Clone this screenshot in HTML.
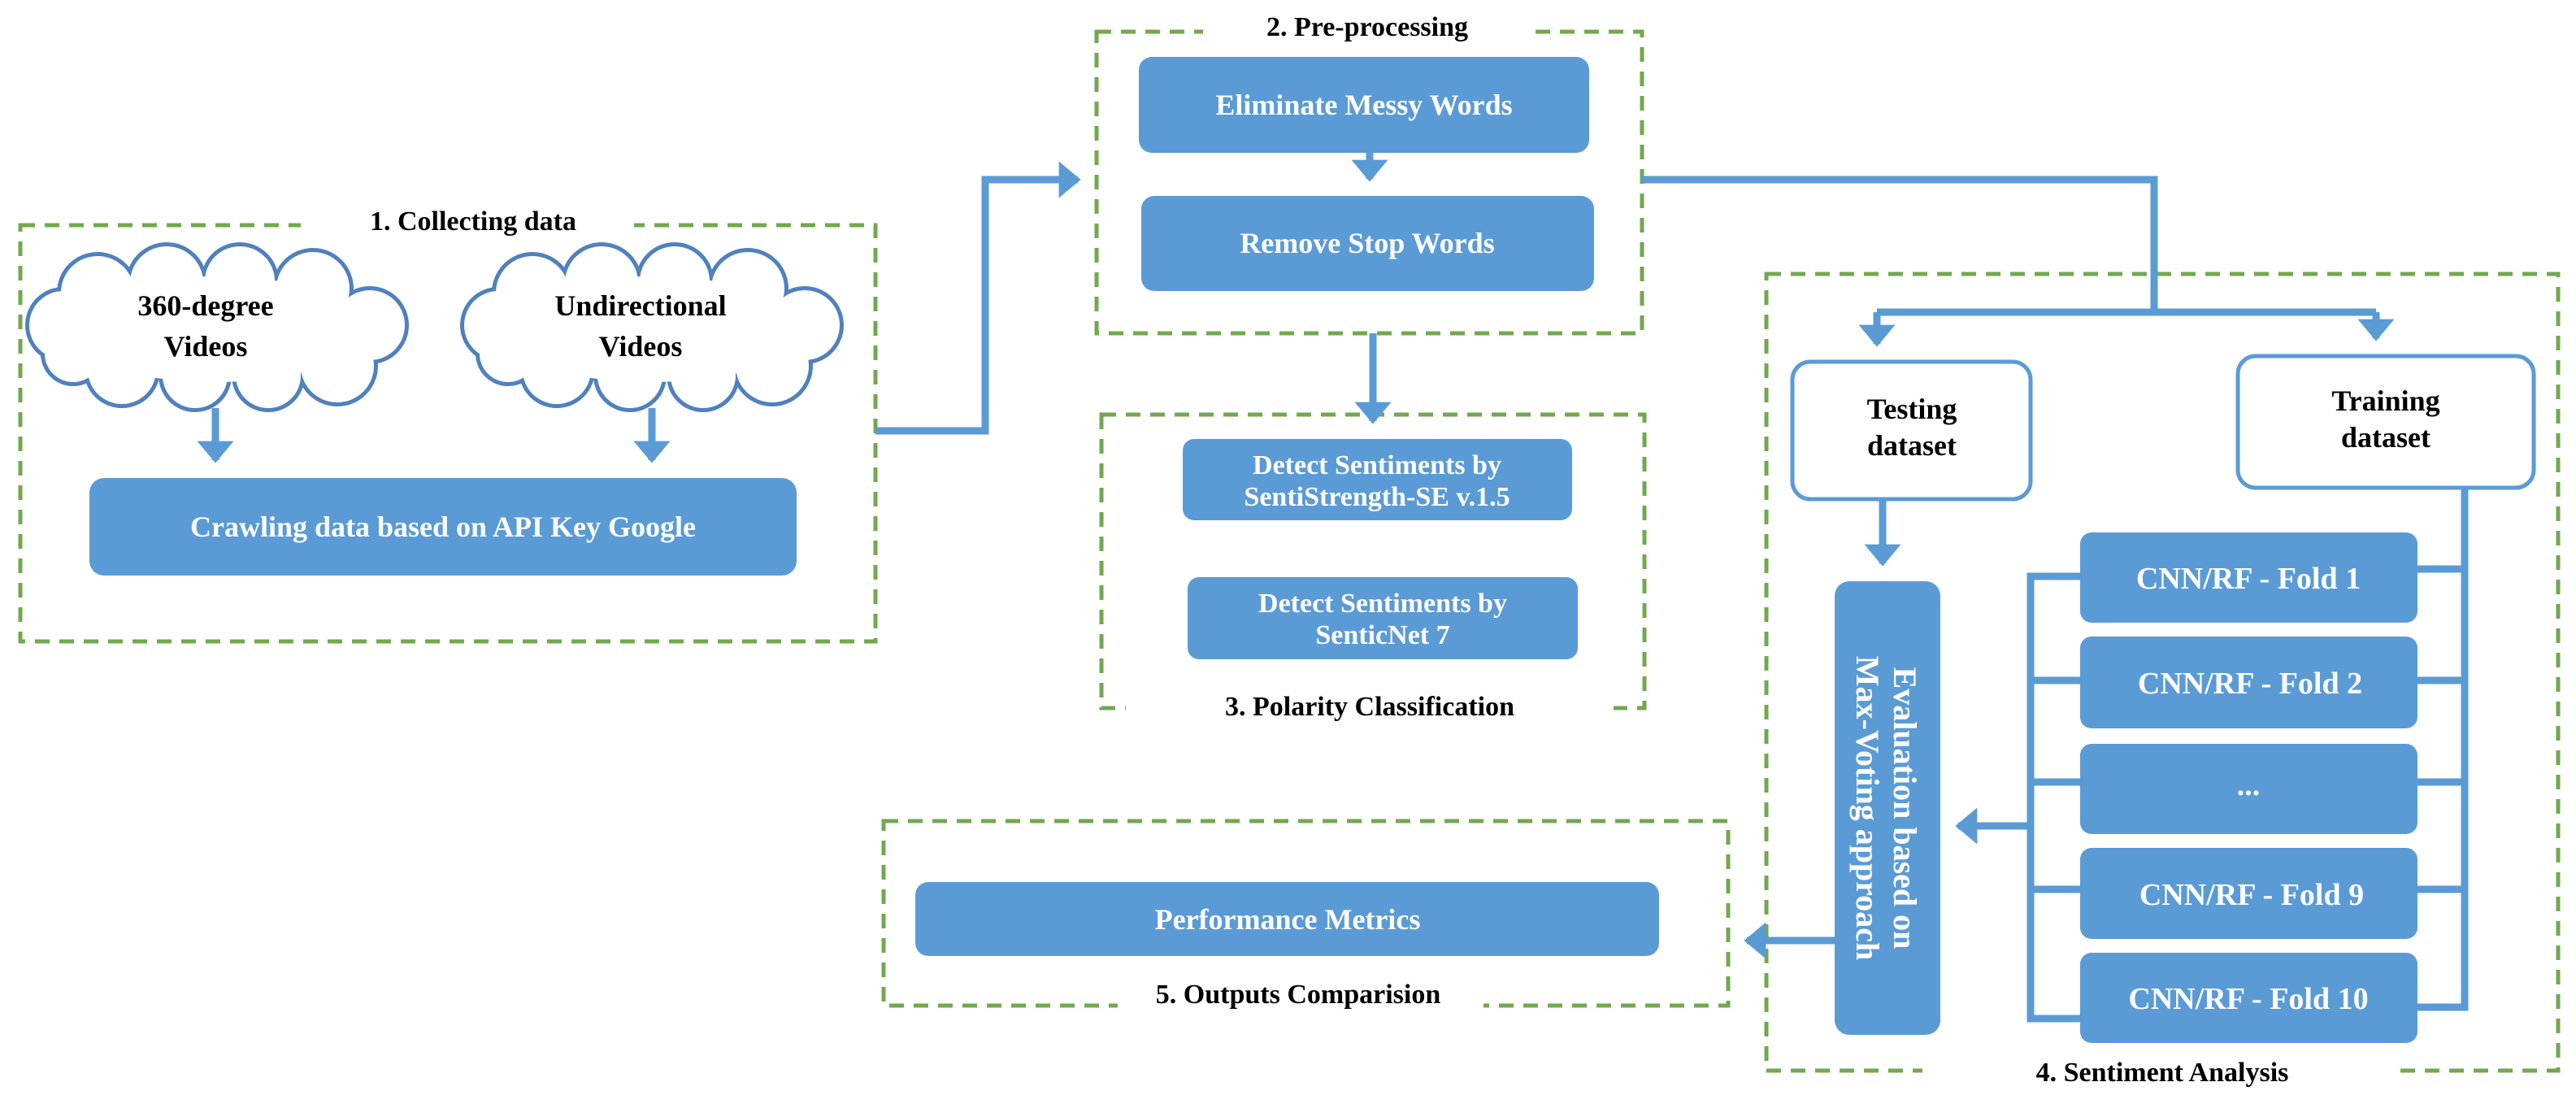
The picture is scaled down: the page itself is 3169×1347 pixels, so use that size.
<!DOCTYPE html>
<html><head><meta charset="utf-8"><style>
html,body{margin:0;padding:0;background:#fff;}
svg{display:block;}
text{font-family:"Liberation Serif",serif;font-weight:bold;}
</style></head><body>
<svg width="3169" height="1347" viewBox="0 0 3169 1347" xmlns="http://www.w3.org/2000/svg">
<defs>
<marker id="ah" markerWidth="4" markerHeight="5" refX="2.6" refY="2.5" orient="auto" markerUnits="strokeWidth">
<path d="M0,0 L3,2.5 L0,5 z" fill="#5b9bd5"/></marker>
</defs>
<g fill="none" stroke="#72a84e" stroke-width="5" stroke-dasharray="18,12">
<rect x="25" y="277" width="1052" height="512"/>
<rect x="1349" y="39" width="671" height="371"/>
<rect x="1355" y="510" width="668" height="361"/>
<rect x="2173" y="337" width="974" height="980"/>
<rect x="1087" y="1010" width="1039" height="227"/>
</g>
<g fill="#fff">
<rect x="370" y="250" width="410" height="50"/>
<rect x="1480" y="10" width="400" height="50"/>
<rect x="1385" y="845" width="600" height="50"/>
<rect x="2365" y="1295" width="580" height="52"/>
<rect x="1375" y="1210" width="450" height="50"/>
</g>
<g font-size="34" text-anchor="middle" fill="#000">
<text x="582" y="283">1. Collecting data</text>
<text x="1682" y="44">2. Pre-processing</text>
<text x="1685" y="880">3. Polarity Classification</text>
<text x="2660" y="1330">4. Sentiment Analysis</text>
<text x="1597" y="1234">5. Outputs Comparision</text>
</g>
<!-- clouds -->
<g id="c1">
<g fill="#fff" stroke="#4f81bd" stroke-width="10">
<circle cx="78" cy="400" r="42"/><circle cx="120" cy="360" r="45"/><circle cx="205" cy="348" r="45"/><circle cx="295" cy="346" r="43"/><circle cx="385" cy="355" r="45"/><circle cx="455" cy="400" r="43"/><circle cx="415" cy="450" r="45"/><circle cx="330" cy="462" r="40"/><circle cx="240" cy="462" r="40"/><circle cx="150" cy="455" r="42"/><circle cx="90" cy="435" r="35"/>
</g>
<g fill="#fff">
<circle cx="78" cy="400" r="42"/><circle cx="120" cy="360" r="45"/><circle cx="205" cy="348" r="45"/><circle cx="295" cy="346" r="43"/><circle cx="385" cy="355" r="45"/><circle cx="455" cy="400" r="43"/><circle cx="415" cy="450" r="45"/><circle cx="330" cy="462" r="40"/><circle cx="240" cy="462" r="40"/><circle cx="150" cy="455" r="42"/><circle cx="90" cy="435" r="35"/>
<ellipse cx="265" cy="405" rx="190" ry="65"/>
</g>
</g>
<use href="#c1" x="535" y="0"/>
<g font-size="36" text-anchor="middle" fill="#000">
<text x="253" y="388">360-degree</text><text x="253" y="438">Videos</text>
<text x="788" y="388">Undirectional</text><text x="788" y="438">Videos</text>
</g>
<!-- blue boxes -->
<g fill="#5b9bd5">
<rect x="110" y="588" width="870" height="120" rx="18"/>
<rect x="1401" y="70" width="554" height="118" rx="16"/>
<rect x="1404" y="241" width="557" height="117" rx="16"/>
<rect x="1455" y="540" width="479" height="100" rx="14"/>
<rect x="1461" y="710" width="480" height="101" rx="14"/>
<rect x="1126" y="1085" width="915" height="91" rx="16"/>
<rect x="2257" y="715" width="130" height="558" rx="18"/>
<rect x="2559" y="655" width="415" height="111" rx="14"/>
<rect x="2559" y="783" width="415" height="113" rx="14"/>
<rect x="2559" y="915" width="415" height="111" rx="14"/>
<rect x="2559" y="1043" width="415" height="112" rx="14"/>
<rect x="2559" y="1172" width="415" height="111" rx="14"/>
</g>
<g fill="#fff" stroke="#5b9bd5" stroke-width="5">
<rect x="2205" y="445" width="293" height="169" rx="22"/>
<rect x="2753" y="438" width="364" height="162" rx="22"/>
</g>
<g fill="#fff" font-size="36" text-anchor="middle">
<text x="545" y="660">Crawling data based on API Key Google</text>
<text x="1678" y="141">Eliminate Messy Words</text>
<text x="1682" y="311">Remove Stop Words</text>
<text x="1694" y="583" font-size="34">Detect Sentiments by</text>
<text x="1694" y="622" font-size="34">SentiStrength-SE v.1.5</text>
<text x="1701" y="753" font-size="34">Detect Sentiments by</text>
<text x="1701" y="792" font-size="34">SenticNet 7</text>
<text x="1584" y="1143">Performance Metrics</text>
<g font-size="38">
<text x="2766" y="724">CNN/RF - Fold 1</text>
<text x="2768" y="853">CNN/RF - Fold 2</text>
<text x="2766" y="978">...</text>
<text x="2770" y="1113">CNN/RF - Fold 9</text>
<text x="2766" y="1241">CNN/RF - Fold 10</text>
</g>
<text transform="translate(2322,994) rotate(90)" font-size="40"><tspan x="0" y="-8">Evaluation based on</tspan><tspan x="0" y="38">Max-Voting approach</tspan></text>
</g>
<g fill="#000" font-size="36" text-anchor="middle">
<text x="2352" y="515">Testing</text><text x="2352" y="560">dataset</text>
<text x="2935" y="505">Training</text><text x="2935" y="550">dataset</text>
</g>
<!-- connectors -->
<g fill="none" stroke="#5b9bd5" stroke-width="9">
<path d="M265 502 V566" marker-end="url(#ah)"/>
<path d="M802 502 V566" marker-end="url(#ah)"/>
<path d="M1077 530 H1212 V221 H1326" marker-end="url(#ah)"/>
<path d="M1685 188 V220" marker-end="url(#ah)"/>
<path d="M1689 410 V518" marker-end="url(#ah)"/>
<path d="M2020 221 H2650 V384"/>
<path d="M2309 384 H2923"/>
<path d="M2309 384 V423" marker-end="url(#ah)"/>
<path d="M2923 384 V416" marker-end="url(#ah)"/>
<path d="M2316 614 V693" marker-end="url(#ah)"/>
<path d="M2559 709 H2498 V1253 H2559"/>
<path d="M2498 837 H2559 M2498 962 H2559 M2498 1094 H2559"/>
<path d="M2498 1016 H2409" marker-end="url(#ah)"/>
<path d="M3032 600 V1239 H2974"/>
<path d="M2974 700 H3032 M2974 837 H3032 M2974 962 H3032 M2974 1094 H3032"/>
<path d="M2257 1157 H2149" marker-end="url(#ah)"/>
</g>
</svg>
</body></html>
